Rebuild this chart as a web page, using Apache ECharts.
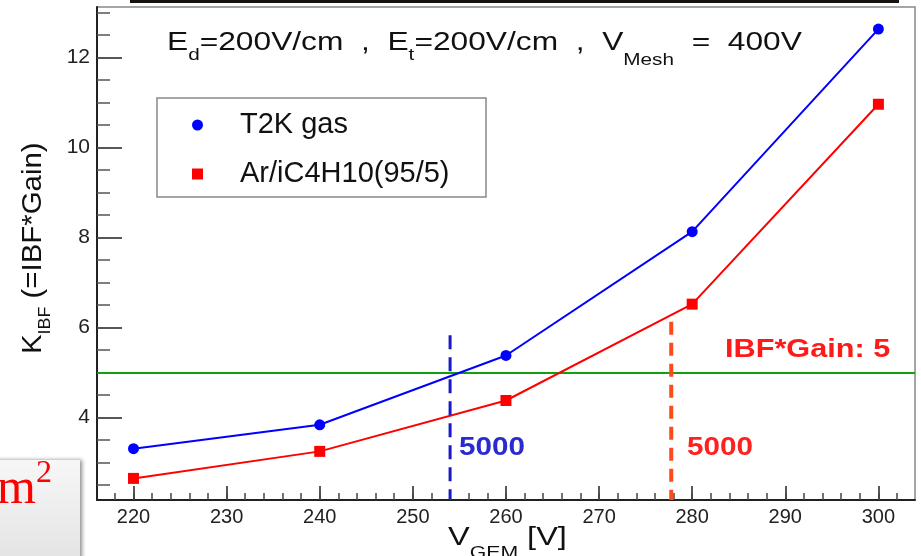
<!DOCTYPE html>
<html><head><meta charset="utf-8">
<script src="https://cdn.jsdelivr.net/npm/echarts@6/dist/echarts.min.js"></script>
<style>html,body{margin:0;padding:0;background:#fff}#c{width:921px;height:556px}</style>
</head><body><div id="c"></div>
<script>
// ---- data ----
const vGem = [220, 240, 260, 280, 300];
const kT2K = [3.31, 3.84, 5.38, 8.13, 12.63];
const kArIso = [2.65, 3.25, 4.38, 6.52, 10.96];
const ibfLimit = 5;
const t2kCut = [254.0, 5.83];   // V_GEM where gain = 5000 (T2K gas), marker top
const arCut = [277.75, 6.13];   // V_GEM where gain = 5000 (Ar/iC4H10), marker top
const xTickLabels = [220, 230, 240, 250, 260, 270, 280, 290, 300];
const yTickLabels = [4, 6, 8, 10, 12];
const xRange = [216.08, 303.93];
const yRange = [2.17, 13.12];
const xMinor = []; for (let v = 218; v <= 302; v += 2) xMinor.push(v);
const yMinor = []; for (let v = 2.5; v <= 13; v += 0.5) yMinor.push(v);

const FF = '"Liberation Sans", Arial, Helvetica, sans-serif';
const ctx = document.createElement('canvas').getContext('2d');
function tw(t, fs, w, fam) { ctx.font = (w || 'normal') + ' ' + fs + 'px ' + (fam || FF); return ctx.measureText(t).width; }
function mathText(segs, x, base, sx, color, rot, fam) {
  const children = []; let cx = 0;
  segs.forEach(s => {
    children.push({ type: 'text', x: cx, y: (s.dy || 0) - 0.35 * s.fs, z: 30,
      style: { text: s.t, fontSize: s.fs, fontFamily: fam || FF, fontWeight: s.w || 'normal',
        fill: s.c || color, align: 'left', verticalAlign: 'middle' } });
    cx += tw(s.t, s.fs, s.w, fam) + (s.k || 0);
  });
  return { type: 'group', x: x, y: base, scaleX: sx, rotation: rot || 0, children: children, z: 30 };
}

const chart = echarts.init(document.getElementById('c'), null, { renderer: 'canvas' });
const axisCommon = { type: 'value', splitLine: { show: false }, scale: true };
const option = {
  animation: false,
  backgroundColor: '#fff',
  grid: { left: 97, right: 6, top: 7, bottom: 56, show: true, borderColor: '#888', borderWidth: 1.5, containLabel: false, outerBoundsMode: 'none' },
  xAxis: [
    Object.assign({}, axisCommon, { min: xRange[0], max: xRange[1], position: 'bottom',
      axisLine: { show: true, lineStyle: { color: '#222', width: 2 } },
      axisTick: { show: true, inside: true, length: 14, customValues: xTickLabels, lineStyle: { color: '#222', width: 1.5 } },
      axisLabel: { show: true, customValues: xTickLabels, fontSize: 20, color: '#222', margin: 7, fontFamily: FF } }),
    Object.assign({}, axisCommon, { min: xRange[0], max: xRange[1], position: 'bottom',
      axisLine: { show: false },
      axisTick: { show: true, inside: true, length: 7, customValues: xMinor, lineStyle: { color: '#444', width: 1.5 } },
      axisLabel: { show: false } })
  ],
  yAxis: [
    Object.assign({}, axisCommon, { min: yRange[0], max: yRange[1], position: 'left',
      axisLine: { show: true, lineStyle: { color: '#222', width: 2 } },
      axisTick: { show: true, inside: true, length: 25, customValues: yTickLabels, lineStyle: { color: '#222', width: 1.5 } },
      axisLabel: { show: true, customValues: yTickLabels, fontSize: 21, color: '#222', margin: 7, fontFamily: FF } }),
    Object.assign({}, axisCommon, { min: yRange[0], max: yRange[1], position: 'left',
      axisLine: { show: false },
      axisTick: { show: true, inside: true, length: 13, customValues: yMinor, lineStyle: { color: '#555', width: 1.5 } },
      axisLabel: { show: false } })
  ],
  legend: {
    left: 157, top: 100, orient: 'vertical', padding: [10, 20, 10, 35],
    itemWidth: 11, itemHeight: 11, itemGap: 19,
    textStyle: { fontSize: 29, lineHeight: 30, color: '#111', fontFamily: FF, padding: [0, 0, 0, 32] },
    data: [{ name: 'T2K gas', icon: 'circle' }, { name: 'Ar/iC4H10(95/5)', icon: 'rect' }]
  },
  series: [
    { type: 'line', name: 'T2K gas', data: vGem.map((v, i) => [v, kT2K[i]]),
      symbol: 'circle', symbolSize: 11, z: 6,
      lineStyle: { color: '#0000ff', width: 2 }, itemStyle: { color: '#0000ff' },
      markLine: { silent: true, symbol: 'none', label: { show: false }, animation: false,
        lineStyle: { color: '#10a010', width: 2, type: 'solid' }, data: [{ yAxis: ibfLimit }] } },
    { type: 'line', name: 'Ar/iC4H10(95/5)', data: vGem.map((v, i) => [v, kArIso[i]]),
      symbol: 'rect', symbolSize: 11, z: 6,
      lineStyle: { color: '#ff0000', width: 2 }, itemStyle: { color: '#ff0000' } },
    { type: 'line', name: 'cutT2K', data: [[t2kCut[0], t2kCut[1]], [t2kCut[0], yRange[0]]],
      symbol: 'none', z: 7, lineStyle: { color: '#1a1ac4', width: 3, type: [14, 8] } },
    { type: 'line', name: 'cutAr', data: [[arCut[0], arCut[1]], [arCut[0], yRange[0]]],
      symbol: 'none', z: 7, lineStyle: { color: '#ff4a1a', width: 4, type: [13, 8] } }
  ],
  graphic: [
    // legend frame
    { type: 'rect', shape: { x: 157, y: 98, width: 329, height: 99 }, style: { fill: '#fff', stroke: '#888', lineWidth: 1.5 }, z: 1 },
    // slide artefacts
    { type: 'rect', shape: { x: 130, y: 0, width: 769, height: 3 }, style: { fill: '#151210' }, z: 20 },
    { type: 'rect', shape: { x: -5, y: 460, width: 85, height: 100 },
      style: { fill: new echarts.graphic.LinearGradient(0, 0, 0, 1, [{ offset: 0, color: '#f7f7f7' }, { offset: 1, color: '#e4e4e4' }]),
        shadowBlur: 4, shadowColor: 'rgba(0,0,0,0.45)', shadowOffsetX: 2 }, z: 20 },
    mathText([{ t: 'm', fs: 50 }, { t: '2', fs: 32, dy: -22 }], -3, 507, 1, '#ff0000', 0, '"Liberation Serif", "DejaVu Serif", serif'),
    // title
    mathText([{ t: 'E', fs: 26 }, { t: 'd', fs: 17, dy: 9 }, { t: '=200V/cm  ,  E', fs: 26 }, { t: 't', fs: 17, dy: 9 },
      { t: '=200V/cm  ,  V', fs: 26 }, { t: 'Mesh', fs: 17, dy: 14 }, { t: '  =  400V', fs: 26 }], 167, 52, 1.22, '#111'),
    // axis titles
    mathText([{ t: 'K', fs: 28 }, { t: 'IBF', fs: 17, dy: 8 }, { t: ' (=IBF*Gain)', fs: 28 }], 43, 354, 1.05, '#111', Math.PI / 2),
    mathText([{ t: 'V', fs: 26 }, { t: 'GEM', fs: 17, dy: 12 }, { t: ' [V]', fs: 26 }], 448, 547, 1.25, '#111'),
    // annotations
    mathText([{ t: '5000', fs: 26, w: 'bold' }], 459, 457, 1.14, '#2a2ad0'),
    mathText([{ t: '5000', fs: 26, w: 'bold' }], 687, 457, 1.14, '#ff2020'),
    mathText([{ t: 'IBF*Gain: 5', fs: 26, w: 'bold' }], 725, 359, 1.18, '#ff1a1a')
  ]
};
chart.setOption(option);
</script></body></html>
